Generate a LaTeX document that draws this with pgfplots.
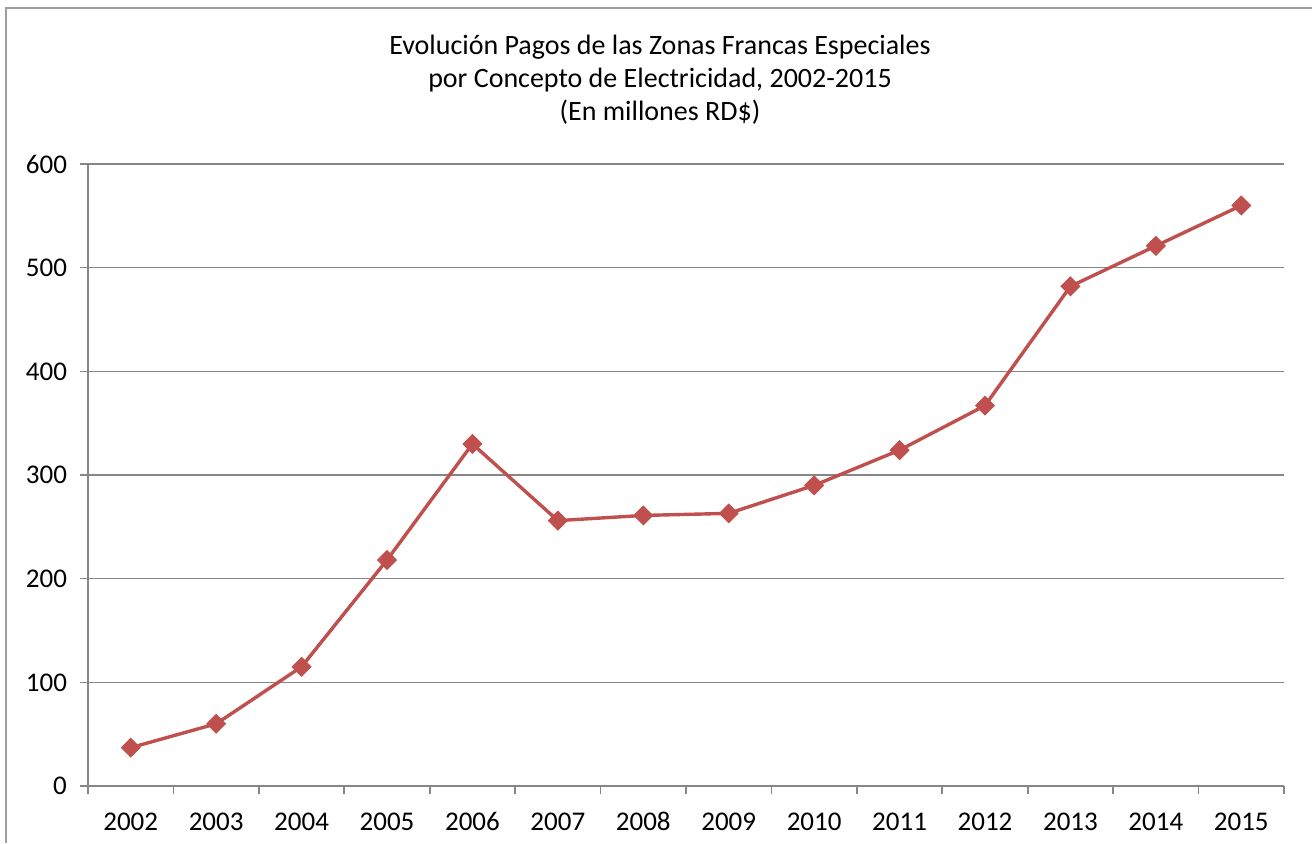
\documentclass[border=0pt]{standalone}
\usepackage{fontspec}
\setmainfont{Carlito}
\usepackage{pgfplots}
\pgfplotsset{compat=1.18}
\definecolor{ser}{RGB}{192,80,77}
\definecolor{gr}{RGB}{134,134,134}
\begin{document}
\fontsize{13}{16}\selectfont
\begin{tikzpicture}
\useasboundingbox (0,0) rectangle (656pt,421.5pt);
\draw[gr!80, line width=0.9pt] (3pt,0) -- (3pt,417.5pt) -- (660pt,417.5pt);
\node[align=center, font=\fontsize{14}{16.5}\selectfont] at (330pt,381.5pt) {Evolución Pagos de las Zonas Francas Especiales\\por Concepto de Electricidad, 2002-2015\\(En millones RD\$)};
\begin{axis}[
  at={(44pt,28.5pt)}, anchor=south west,
  scale only axis, width=598pt, height=311pt,
  xmin=-0.5, xmax=13.5, ymin=0, ymax=600,
  ytick={0,100,...,600},
  xtick={0,...,13},
  xticklabels={2002,2003,2004,2005,2006,2007,2008,2009,2010,2011,2012,2013,2014,2015},
  minor xtick={-0.5,0.5,...,13.5},
  x tick style={draw=none},
  minor x tick style={draw=gr, line width=0.8pt},
  y tick style={draw=gr, line width=0.8pt},
  tick align=outside,
  major tick length=4pt, minor tick length=4pt,
  axis x line*=bottom, axis y line*=left,
  axis line style={draw=gr, line width=0.8pt, -},
  ymajorgrids, major grid style={draw=gr, line width=0.8pt},
  /pgf/number format/assume math mode=true,
  ticklabel style={font=\fontsize{13.5}{16}\selectfont},
  xticklabel style={yshift=-4pt, text height=9.5pt, text depth=0pt},
  yticklabel style={xshift=-2pt},
  clip=false,
]
\addplot[ser, line width=1.7pt, mark=square*, mark size=3.3pt, mark options={rotate=45, fill=ser, draw=ser, line width=0.5pt}]
coordinates {(0,37) (1,60) (2,115) (3,218) (4,330) (5,256) (6,261) (7,263) (8,290) (9,324) (10,367) (11,482) (12,521) (13,560)};
\end{axis}
\end{tikzpicture}
\end{document}
